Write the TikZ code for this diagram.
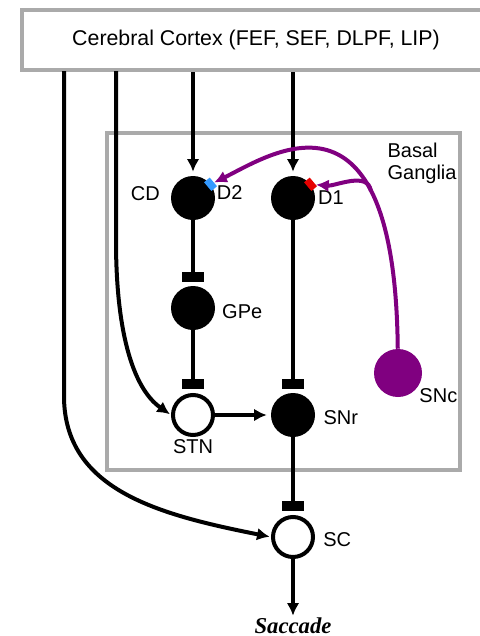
\documentclass[tikz,border=0pt]{standalone}
\usepackage{fontspec}
\setmainfont{Liberation Sans}
\newfontfamily\sacfont{Liberation Serif}
\usetikzlibrary{arrows.meta,positioning}
\definecolor{dopa}{RGB}{128,0,128}
\definecolor{dtwo}{RGB}{51,153,255}
\definecolor{done}{RGB}{230,0,0}
\definecolor{boxgray}{RGB}{170,170,170}
\tikzset{
  excit/.style={-{Latex[length=9.5pt,width=9.5pt]}, line width=3pt},
  inhib/.style={-{Rectangle[length=7.5pt,width=17pt]}, line width=3pt, shorten >=3pt},
  dparr/.style={-{Latex[length=9.5pt,width=9.5pt]}, dopa, line width=3pt},
  neur/.style={circle, fill=black, minimum size=33pt, inner sep=0pt},
  openneur/.style={circle, draw=black, fill=white, line width=3pt, minimum size=30pt, inner sep=0pt},
  rcpt/.style={rectangle, rotate=-50, minimum width=8.5pt, minimum height=5.5pt, inner sep=0pt},
  lbl/.style={font=\fontsize{15}{17}\selectfont, inner sep=1pt},
  ctxbox/.style={draw=boxgray, line width=3pt, minimum width=351pt, minimum height=45pt,
                 font=\fontsize{16}{18}\selectfont},
  areabox/.style={draw=boxgray, line width=3pt, minimum width=264.75pt, minimum height=252.75pt},
}

\begin{document}
\begin{tikzpicture}[x=0.75pt, y=-0.75pt]
    \useasboundingbox (0,0) rectangle (479,636);
    % cortex and basal ganglia frame
    \node[ctxbox] (ctx) at (256,40) {Cerebral Cortex (FEF, SEF, DLPF, LIP)};
    \node[areabox] (bg) at (283.5,301.5) {};
    \node[lbl, anchor=north west, align=left] (bglbl) at (386,141) {Basal\\Ganglia};
    % nuclei
    \node[neur] (cd) at (193,198) {};
    \node[neur] (d1) at (293,198) {};
    \node[neur] (gpe) at (193,308) {};
    \node[openneur] (stn) at (193,415) {};
    \node[neur] (snr) at (293,415) {};
    \node[neur, fill=dopa, minimum size=36pt] (snc) at (398,373) {};
    \node[openneur] (sc) at (293,537) {};
    \node[font=\sacfont\bfseries\itshape\fontsize{17}{19}\selectfont, anchor=base, inner sep=1pt] (sac) at (293,633) {Saccade};
    \node[rcpt, fill=dtwo] (d2r) at (cd.38) {};
    \node[rcpt, fill=done] (d1r) at (d1.38) {};
    % labels
    \node[lbl, left=7pt of cd, yshift=3pt] (cdlbl) {CD};
    \node[lbl, right=0pt of cd, yshift=4pt] (d2lbl) {D2};
    \node[lbl, right=1pt of d1] (d1lbl) {D1};
    \node[lbl, right=4pt of gpe, yshift=-3pt] (gpelbl) {GPe};
    \node[lbl, below=1pt of stn] (stnlbl) {STN};
    \node[lbl, right=5pt of snr, yshift=-2pt] (snrlbl) {SNr};
    \node[lbl, anchor=north west] (snclbl) at (snc.-35) {SNc};
    \node[lbl, right=5pt of sc, yshift=-2pt] (sclbl) {SC};
    % cortical inputs
    \coordinate (ctxa) at (64,71);
    \coordinate (ctxb) at (116,71);
    \draw[excit, shorten >=3pt] (ctx.south -| cd) -- (cd);
    \draw[excit, shorten >=3pt] (ctx.south -| d1) -- (d1);
    \draw[excit, shorten >=1pt] (ctxb) -- ++(0,170) .. controls +(0,85) and +(-40,-28) .. (stn.west);
    \draw[excit, shorten >=1pt] (ctxa) -- ++(0,325) .. controls +(0,95) and +(-110,-22) .. (sc.west);
    % loops
    \draw[inhib] (cd) -- (gpe);
    \draw[inhib] (gpe) -- (stn);
    \draw[inhib] (d1) -- (snr);
    \draw[inhib] (snr) -- (sc);
    \draw[excit, shorten >=3pt] (stn) -- (snr);
    \draw[excit] (sc) -- (sac);
    % dopamine
    \draw[dparr] (snc) .. controls (395,70) and (270,155) .. (d2r) coordinate[pos=0.28] (fork);
    \draw[dparr] (fork) .. controls +(-3,-20) and +(25,2) .. (d1r);
\end{tikzpicture}
\end{document}
